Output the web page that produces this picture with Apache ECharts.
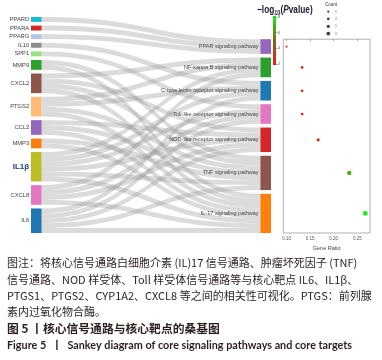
<!DOCTYPE html>
<html><head><meta charset="utf-8">
<script src="https://cdn.jsdelivr.net/npm/echarts@6/dist/echarts.min.js"></script>
<style>html,body{margin:0;padding:0;background:#fff}#c{width:382px;height:360px}</style>
</head><body><div id="c"></div>
<script>
// ---------- data ----------
const genes = ['PPARD','PPARA','PPARG','IL10','SPP1','MMP9','CXCL2','PTGS2','CCL2','MMP3','IL1β','CXCL8','IL6'];
const geneColors = ['#17becf','#d62728','#aec7e8','#8c8c8c','#98df8a','#2ca02c','#8c564b','#ffbb78','#9467bd','#ff7f0e','#bcbd22','#e377c2','#1f77b4'];
const pathways = ['PPAR signaling pathway','NF-kappa B signaling pathway','C-type lectin receptor signaling pathway','Toll-like receptor signaling pathway','NOD-like receptor signaling pathway','TNF signaling pathway','IL-17 signaling pathway'];
const pathwayColors = ['#9467bd','#2ca02c','#1f77b4','#e377c2','#d62728','#8c564b','#ff7f0e'];
const pathwayGenes = [
  ['PPARD','PPARA','PPARG'],
  ['CXCL2','PTGS2','IL1β','CXCL8'],
  ['IL10','PTGS2','IL1β','IL6'],
  ['SPP1','IL1β','CXCL8','IL6'],
  ['CXCL2','CCL2','IL1β','CXCL8','IL6'],
  ['MMP9','CXCL2','PTGS2','CCL2','MMP3','IL1β','IL6'],
  ['MMP9','CXCL2','PTGS2','CCL2','MMP3','IL1β','CXCL8','IL6']
];
const counts = [3,4,4,4,5,7,8];
const geneRatio = [0.100,0.133,0.133,0.133,0.167,0.233,0.267];
const negLog10P = [2.0,2.3,2.3,2.2,2.6,6.6,8.0];
const ratioTicks = [0.10,0.15,0.20,0.25];
const colorTicks = [2,4,6,8];
const colorRange = [1.85, 8.1];
const colorRamp = ['#ee1c1c','#7d6414','#19f019'];  // low -> high
const countLegend = [3,4,5,6];
const captionLines = [
  '图注：将核心信号通路白细胞介素 (IL)17 信号通路、肿瘤坏死因子 (TNF)',
  '信号通路、NOD 样受体、Toll 样受体信号通路等与核心靶点 IL6、IL1β、',
  'PTGS1、PTGS2、CYP1A2、CXCL8 等之间的相关性可视化。PTGS：前列腺',
  '素内过氧化物合酶。'
];
const figTitleCN = '图 5 丨核心信号通路与核心靶点的桑基图';
const figTitleEN = 'Figure 5  丨  Sankey diagram of core signaling pathways and core targets';

// ---------- layout ----------
const H = 360;
const SK = {left:31, right:111, top:17, bottom:127, nodeWidth:10.6, nodeGap:3.7};
const skHeight = H - SK.top - SK.bottom;
const total = counts.reduce((a,b)=>a+b,0);
const ky = (skHeight - (genes.length-1)*SK.nodeGap)/total;
const spacerVal = (genes.length-1-pathways.length)*SK.nodeGap/ky;
const colTop = SK.top + spacerVal*ky + SK.nodeGap;
const gapUnits = SK.nodeGap/ky;
const yMax = total + (pathways.length-1)*gapUnits;
const sizeOf = c => 0.5 + 0.55*c;
const FONT = '"Liberation Sans", Arial, sans-serif';

const nodes = [];
genes.forEach((g,i)=>{
  const n = {name:g, depth:0, itemStyle:{color:geneColors[i]}};
  if (g==='IL1β') n.label = {fontSize:8, fontWeight:'bold', color:'#1f3a93'};
  nodes.push(n);
});
nodes.push({name:'spacer', depth:1, value:spacerVal, itemStyle:{opacity:0}, label:{show:false}});
pathways.forEach((p,i)=>nodes.push({name:p, depth:1, itemStyle:{color:pathwayColors[i]}, label:{fontSize:5.5}}));
const links = [];
pathways.forEach((p,i)=>pathwayGenes[i].forEach(g=>links.push({source:g, target:p, value:1})));

let cum = 0;
const scatterData = pathways.map((p,i)=>{
  const y = cum + counts[i]/2 + i*gapUnits;
  cum += counts[i];
  return [geneRatio[i], y, negLog10P[i], counts[i]];
});

const gradStops = colorRamp.slice().reverse().map((c,i,a)=>({offset:i/(a.length-1), color:c}));

const chart = echarts.init(document.getElementById('c'), null, {renderer:'canvas'});
chart.setOption({
  animation:false,
  textStyle:{fontFamily:FONT},
  grid:[
    {left:283.3, right:12, top:colTop, bottom:SK.bottom, show:true, borderColor:'#9a9a9a', borderWidth:0.8, backgroundColor:'#fff'},
    {left:273, top:16, width:3, height:49, show:false},
    {left:325.3, top:8, width:6, height:29.2, show:false}
  ],
  xAxis:[
    {type:'value', gridIndex:0, min:0.093, max:0.277,
     axisLine:{show:false}, splitLine:{show:false},
     axisTick:{show:true, length:2, lineStyle:{color:'#777', width:0.6}, customValues:ratioTicks},
     axisLabel:{fontSize:4.5, color:'#555', margin:3, formatter:v=>v.toFixed(2), customValues:ratioTicks},
     name:'Gene Ratio', nameLocation:'middle', nameGap:10, nameTextStyle:{fontSize:5.5, color:'#444'}},
    {type:'category', gridIndex:1, data:['c'], show:false},
    {type:'category', gridIndex:2, data:['n'], show:false}
  ],
  yAxis:[
    {type:'value', gridIndex:0, inverse:true, min:0, max:yMax, show:false},
    {type:'value', gridIndex:1, min:colorRange[0], max:colorRange[1], position:'right',
     axisLine:{show:false}, splitLine:{show:false},
     axisTick:{show:true, length:1.5, lineStyle:{color:'#555', width:0.5}, customValues:colorTicks},
     axisLabel:{fontSize:4, color:'#555', margin:2, customValues:colorTicks}},
    {type:'category', gridIndex:2, inverse:true, data:countLegend.map(String), show:false}
  ],
  visualMap:{type:'continuous', show:false, seriesIndex:1, dimension:2, min:colorRange[0], max:colorRange[1],
    inRange:{color:colorRamp}},
  series:[
    {type:'sankey', left:SK.left, right:SK.right, top:SK.top, bottom:SK.bottom,
     nodeWidth:SK.nodeWidth, nodeGap:SK.nodeGap, layoutIterations:0, draggable:false,
     data:nodes, links:links, emphasis:{disabled:true},
     label:{position:'left', distance:1.8, fontSize:5.8, color:'#444', fontFamily:FONT},
     lineStyle:{color:'#9a9a9a', opacity:0.36, curveness:0.5},
     itemStyle:{borderWidth:0}},
    {type:'scatter', xAxisIndex:0, yAxisIndex:0, data:scatterData,
     symbolSize:v=>sizeOf(v[3]), itemStyle:{opacity:1}, emphasis:{disabled:true}},
    {type:'scatter', xAxisIndex:2, yAxisIndex:2,
     data:countLegend.map((c,i)=>[0,i,c]), symbolSize:v=>sizeOf(v[2]),
     itemStyle:{color:'#111'}, emphasis:{disabled:true},
     label:{show:true, position:'right', distance:5, fontSize:4, color:'#666', formatter:p=>String(p.value[2])}},
    {type:'bar', xAxisIndex:1, yAxisIndex:1, stack:'cb', barWidth:'100%', silent:true,
     data:[colorRange[0]], itemStyle:{color:'rgba(0,0,0,0)'}},
    {type:'bar', xAxisIndex:1, yAxisIndex:1, stack:'cb', barWidth:'100%', silent:true,
     data:[colorRange[1]-colorRange[0]],
     itemStyle:{color:new echarts.graphic.LinearGradient(0,0,0,1,gradStops)}}
  ],
  graphic:[
    {type:'text', x:331, y:4.5, style:{text:'Count', font:'4.5px '+FONT, fill:'#333', align:'center', verticalAlign:'middle'}},
    {type:'text', x:257, y:10, scaleX:0.79, style:{
      text:'{a|−log}{s|10}{a|(}{i|P}{a|value)}', verticalAlign:'middle',
      rich:{
        a:{fontSize:10.5, fontWeight:'bold', fill:'#1b1b2e', fontFamily:FONT},
        s:{fontSize:7, fontWeight:'bold', fill:'#1b1b2e', fontFamily:FONT, padding:[6,0,0,0]},
        i:{fontSize:10.5, fontWeight:'bold', fontStyle:'italic', fill:'#1b1b2e', fontFamily:FONT}
      }}},
    ...captionLines.map((t,i)=>({type:'text', x:7, y:263.3+i*16.2, style:{text:t, font:'11px "Noto Sans CJK SC"', fill:'#2a1f1d', verticalAlign:'middle'}})),
    {type:'text', x:7, y:329, style:{text:figTitleCN, font:'bold 11.8px "Noto Sans CJK SC"', fill:'#2a1f1d', verticalAlign:'middle'}},
    {type:'text', x:7, y:345.7, style:{text:figTitleEN, font:'bold 10.8px Lato, "Noto Sans CJK SC"', fill:'#2a1f1d', verticalAlign:'middle'}}
  ]
});
</script>
</body></html>
